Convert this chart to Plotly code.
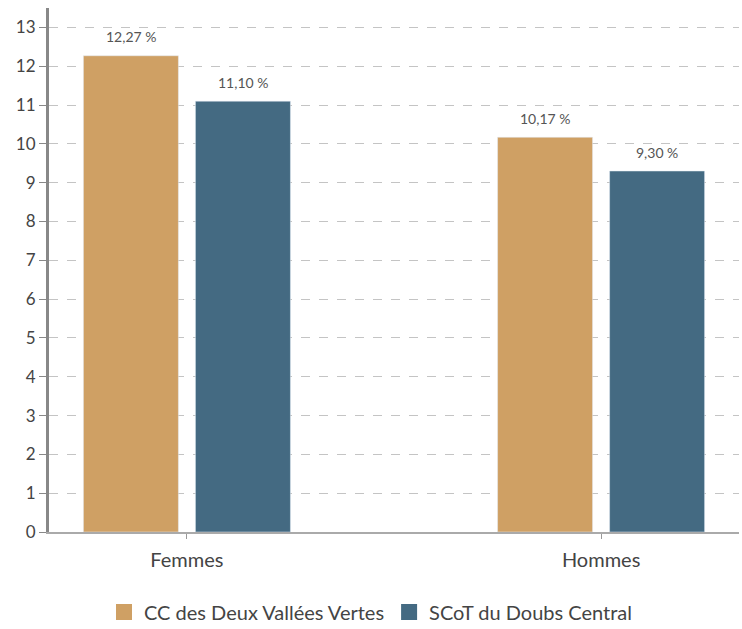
import plotly.graph_objects as go

categories = ["Femmes", "Hommes"]
series_names = ["CC des Deux Vallées Vertes", "SCoT du Doubs Central"]
cc_values = [12.27, 10.17]
scot_values = [11.10, 9.30]
colors = ["#CFA064", "#446A82"]
y_ticks = list(range(0, 14))

FONT = "Lato"

fig = go.Figure()
for name, vals, col in zip(series_names, [cc_values, scot_values], colors):
    fig.add_trace(go.Bar(
        x=categories, y=vals, name=name, marker_color=col,
        showlegend=False, hoverinfo="x+y",
    ))
# value labels above the bars
for vals, shift in zip([cc_values, scot_values], [-56, 56]):
    for cat, v in zip(categories, vals):
        fig.add_annotation(
            x=cat, y=v, xshift=shift, yshift=19, yanchor="middle",
            text=f"{v:.2f} %".replace(".", ","), showarrow=False,
            font=dict(size=14, color="#555555", family=FONT),
        )
# legend entries with larger square swatches
for name, col in zip(series_names, colors):
    fig.add_trace(go.Scatter(
        x=[None], y=[None], mode="markers", name=name,
        marker=dict(symbol="square", size=22, color=col),
        showlegend=True,
    ))

fig.update_layout(
    width=742, height=629,
    separators=", ",
    barmode="group", bargap=0.459, bargroupgap=0.152,
    plot_bgcolor="white", paper_bgcolor="white",
    margin=dict(l=49, r=3, t=8, b=97, autoexpand=False),
    font=dict(family=FONT, color="#444444", size=16),
    showlegend=True,
    legend=dict(orientation="h", xref="container", x=0.5, xanchor="center",
                yref="container", y=0.027, yanchor="middle",
                font=dict(size=20, color="#444444", family=FONT), itemwidth=30,
                traceorder="normal"),
    xaxis=dict(type="category", range=[-0.333, 1.333], automargin=False,
               showline=True, linecolor="#aaaaaa", linewidth=2,
               ticks="outside", ticklen=5, tickcolor="#999999",
               ticklabelstandoff=4,
               tickfont=dict(size=20, color="#444444"), showgrid=False),
    yaxis=dict(range=[0, 13.5], tickvals=y_ticks, automargin=False,
               showline=True, linecolor="#888888", linewidth=3,
               ticks="outside", ticklen=7, tickcolor="#888888",
               showgrid=True, gridcolor="#c4c4c4", griddash="dash", gridwidth=1,
               zeroline=False,
               tickfont=dict(size=17, color="#444444")),
)

fig.write_html("out.html", config={"displayModeBar": False},
               post_script="document.body.style.margin='0';")
